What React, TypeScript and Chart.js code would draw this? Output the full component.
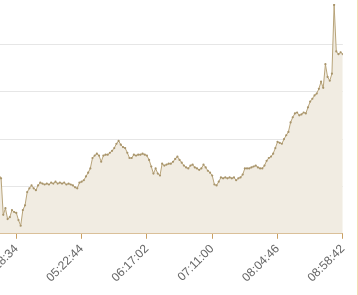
import { useEffect, useRef } from "react";
import { Chart, registerables } from "chart.js";

Chart.register(...registerables);

const tickLabels = ["04:28:34", "05:22:44", "06:17:02", "07:11:00", "08:04:46", "08:58:42"];
const tickIndices = [8, 38, 68, 98, 128, 158];

const values = [
  12.5, 11.7, 4.0, 5.4, 3.1, 3.5, 5.0, 4.6, 4.4, 2.9,
  1.7, 5.0, 6.0, 8.8, 9.6, 10.2, 9.6, 9.2, 10.2, 10.8,
  10.6, 10.4, 10.6, 10.4, 10.8, 10.6, 11.0, 10.6, 10.8, 10.6,
  10.8, 10.4, 10.6, 10.4, 10.2, 9.8, 9.6, 10.8, 11.0, 11.3,
  12.1, 12.9, 13.8, 16.0, 16.5, 16.9, 16.5, 15.2, 16.5, 16.7,
  16.7, 17.1, 17.5, 18.1, 19.0, 19.6, 18.8, 18.3, 18.1, 17.1,
  16.0, 16.0, 16.7, 16.5, 16.7, 16.7, 16.9, 16.7, 16.5, 15.6,
  14.2, 12.7, 13.8, 12.7, 12.3, 14.8, 14.4, 14.6, 14.8, 14.8,
  15.2, 15.8, 16.3, 15.6, 15.0, 14.4, 14.0, 13.8, 14.4, 14.6,
  14.0, 13.8, 13.5, 13.8, 14.6, 14.0, 13.3, 12.9, 12.3, 10.4,
  10.2, 11.0, 11.9, 11.7, 11.9, 11.7, 11.9, 11.7, 11.9, 11.3,
  11.7, 11.9, 12.5, 13.8, 13.8, 13.8, 14.0, 14.2, 14.4, 14.0,
  13.8, 13.8, 14.4, 15.4, 16.0, 16.3, 16.9, 18.1, 19.4, 19.2,
  19.0, 20.0, 20.8, 21.5, 23.5, 24.6, 25.4, 25.6, 25.0, 25.2,
  25.6, 25.4, 26.7, 27.9, 28.5, 29.2, 29.6, 30.6, 32.1, 30.8,
  35.8, 33.1, 32.3, 33.8, 48.3, 38.5, 37.9, 38.3, 37.9,
];

const LINE = "#b8a47a";
const FILL = "#f1ece2";
const AXIS = "#c9a063";

export default function App() {
  const ref = useRef<HTMLCanvasElement>(null);

  useEffect(() => {
    if (!ref.current) return;
    const chart = new Chart(ref.current, {
      type: "line",
      data: {
        datasets: [
          {
            data: values.map((v, i) => ({ x: i, y: v })),
            borderColor: LINE,
            backgroundColor: FILL,
            fill: "start",
            borderWidth: 1,
            pointRadius: 1.1,
            pointBorderWidth: 0,
            pointBackgroundColor: "#a8946a",
            tension: 0,
          },
        ],
      },
      options: {
        animation: false,
        responsive: false,
        maintainAspectRatio: false,
        layout: { padding: { top: 1, bottom: 7, left: 0, right: 0 } },
        plugins: { legend: { display: false }, tooltip: { enabled: false } },
        scales: {
          x: {
            type: "linear",
            min: -43.6,
            max: 158,
            afterBuildTicks: (scale: any) => {
              scale.ticks = tickIndices.map((v) => ({ value: v }));
            },
            ticks: {
              autoSkip: false,
              minRotation: 45,
              maxRotation: 45,
              padding: 3,
              color: "#666",
              font: { family: "'Liberation Sans', Arial, sans-serif", size: 12 },
              callback: (_v: any, i: number) => tickLabels[i],
            },
            grid: { drawOnChartArea: false, drawTicks: true, tickLength: 5, color: AXIS },
            border: { color: AXIS, width: 1 },
          },
          y: {
            min: 0,
            max: 48.5,
            ticks: { display: false, stepSize: 10 },
            grid: {
              drawTicks: false,
              color: (ctx: any) =>
                ctx.tick && ctx.tick.value > 0 && ctx.tick.value % 10 === 0 ? "#e6e6e6" : "rgba(0,0,0,0)",
            },
            border: { display: false },
          },
        },
      },
    });
    return () => chart.destroy();
  }, []);

  return (
    <>
      <div style={{ position: "absolute", left: -100, top: 0, width: 456, height: 295 }}>
        <canvas ref={ref} width={456} height={295} />
      </div>
      <div style={{ position: "absolute", left: 357, top: 0, width: 1, height: 295, background: "#f3deb2" }} />
    </>
  );
}
